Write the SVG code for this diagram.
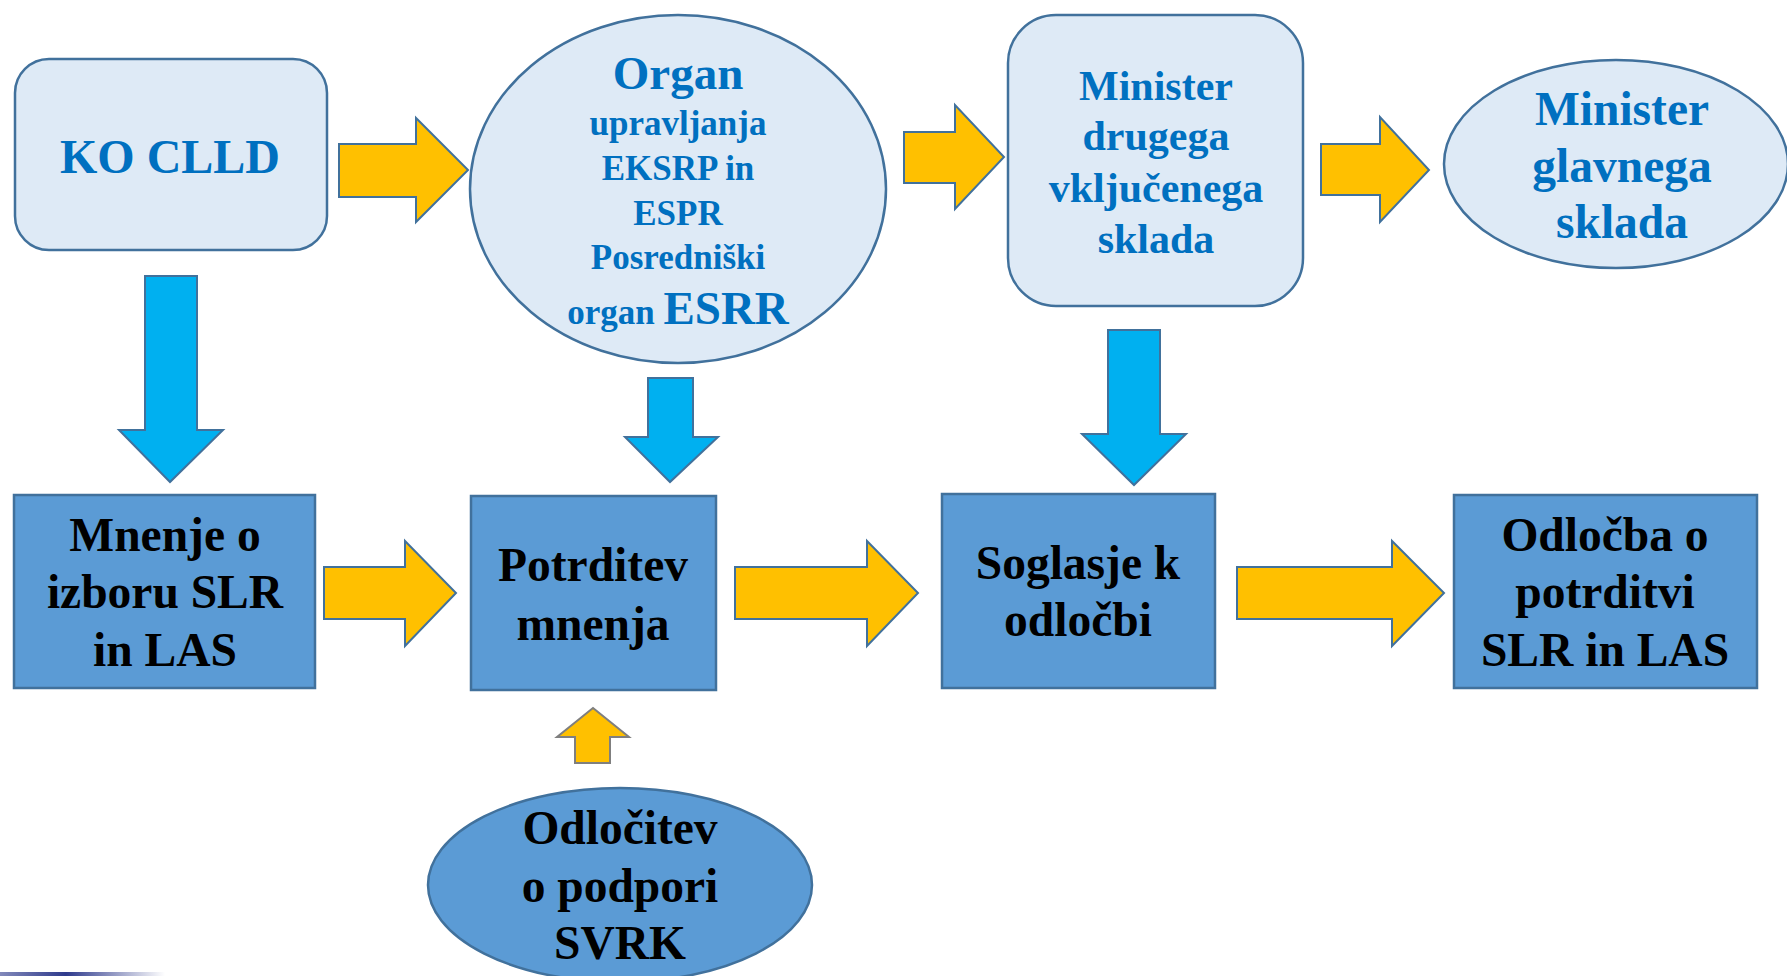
<svg xmlns="http://www.w3.org/2000/svg" width="1787" height="976" viewBox="0 0 1787 976">
<style>
.light{fill:#DEEAF6;stroke:#41719C;stroke-width:2.5}
.dark{fill:#5B9BD5;stroke:#41719C;stroke-width:2.5}
.ya{fill:#FFC000;stroke:#41719C;stroke-width:2}
.ba{fill:#00B0F0;stroke:#41719C;stroke-width:2}
.yg{fill:#FFC000;stroke:#7F7F7F;stroke-width:2}
text{font-family:"Liberation Serif","Times New Roman",serif;font-weight:bold;text-anchor:middle}
.bt{fill:#0070C0}
.kt{fill:#000000;font-size:47.5px}
</style>
<defs>
<linearGradient id="gl" x1="0" x2="1" y1="0" y2="0">
<stop offset="0" stop-color="#2E3A8C" stop-opacity="0.6"/>
<stop offset="0.4" stop-color="#2E3A8C"/>
<stop offset="1" stop-color="#2E3A8C" stop-opacity="0"/>
</linearGradient>
</defs>
<rect x="0" y="972" width="165" height="4" fill="url(#gl)"/>
<g id="connectors">
<polygon class="ya" points="339,144 416,144 416,118 468,170 416,222 416,197 339,197"/>
<polygon class="ya" points="904,132 955,132 955,105 1004,157 955,209 955,183 904,183"/>
<polygon class="ya" points="1321,144 1380,144 1380,117 1429,170 1380,222 1380,195 1321,195"/>
<polygon class="ya" points="324,567 405,567 405,541 456,593 405,646 405,619 324,619"/>
<polygon class="ya" points="735,567 867,567 867,541 918,593 867,646 867,619 735,619"/>
<polygon class="ya" points="1237,567 1392,567 1392,541 1444,593 1392,646 1392,619 1237,619"/>
<polygon class="ba" points="145,276 197,276 197,430 223,430 170,482 119,430 145,430"/>
<polygon class="ba" points="648,378 693,378 693,437 718,437 670,482 625,437 648,437"/>
<polygon class="ba" points="1108,330 1160,330 1160,434 1186,434 1134,485 1082,434 1108,434"/>
<polygon class="yg" points="575,763 575,737 557,737 593,708 629,737 610,737 610,763"/>
</g>
<g id="ko-clld">
<rect class="light" x="15" y="59" width="312" height="191" rx="34"/>
<text class="bt" x="170" y="173" font-size="48">KO CLLD</text>
</g>
<g id="organ">
<ellipse class="light" cx="678" cy="189" rx="208" ry="174"/>
<text class="bt" x="678" y="89" font-size="47">Organ</text>
<text class="bt" x="678" y="135" font-size="35">upravljanja</text>
<text class="bt" x="678" y="180" font-size="35">EKSRP in</text>
<text class="bt" x="678" y="225" font-size="35">ESPR</text>
<text class="bt" x="678" y="269" font-size="35">Posredniški</text>
<text class="bt" x="678" y="324" font-size="35">organ <tspan font-size="47">ESRR</tspan></text>
</g>
<g id="minister-drugega">
<rect class="light" x="1008" y="15" width="295" height="291" rx="48"/>
<text class="bt" x="1156" y="100" font-size="42">Minister</text>
<text class="bt" x="1156" y="150" font-size="42">drugega</text>
<text class="bt" x="1156" y="202" font-size="42">vključenega</text>
<text class="bt" x="1156" y="253" font-size="42">sklada</text>
</g>
<g id="minister-glavnega">
<ellipse class="light" cx="1616" cy="164" rx="172" ry="104"/>
<text class="bt" x="1622" y="125" font-size="47.5">Minister</text>
<text class="bt" x="1622" y="182" font-size="47.5">glavnega</text>
<text class="bt" x="1622" y="238" font-size="47.5">sklada</text>
</g>
<g id="mnenje">
<rect class="dark" x="14" y="495" width="301" height="193"/>
<text class="kt" x="165" y="551">Mnenje o</text>
<text class="kt" x="165" y="608">izboru SLR</text>
<text class="kt" x="165" y="666">in LAS</text>
</g>
<g id="potrditev">
<rect class="dark" x="471" y="496" width="245" height="194"/>
<text class="kt" x="593" y="581">Potrditev</text>
<text class="kt" x="593" y="640">mnenja</text>
</g>
<g id="soglasje">
<rect class="dark" x="942" y="494" width="273" height="194"/>
<text class="kt" x="1078" y="579">Soglasje k</text>
<text class="kt" x="1078" y="636">odločbi</text>
</g>
<g id="odlocba">
<rect class="dark" x="1454" y="495" width="303" height="193"/>
<text class="kt" x="1605" y="551">Odločba o</text>
<text class="kt" x="1605" y="608">potrditvi</text>
<text class="kt" x="1605" y="666">SLR in LAS</text>
</g>
<g id="odlocitev">
<ellipse class="dark" cx="620" cy="885" rx="192" ry="97"/>
<text class="kt" x="620" y="844">Odločitev</text>
<text class="kt" x="620" y="902">o podpori</text>
<text class="kt" x="620" y="959">SVRK</text>
</g>
</svg>
